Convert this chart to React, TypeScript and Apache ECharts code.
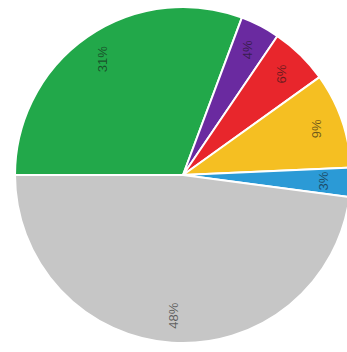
import React, { useEffect, useRef } from "react";
import * as echarts from "echarts";

const categories = ["Green", "Purple", "Red", "Yellow", "Blue", "Gray"];
const values = [30.7, 3.8, 5.6, 9.2, 2.8, 47.9];
const colors = ["#22a84a", "#6a2aa0", "#e8262c", "#f5bf22", "#2b9ad6", "#c6c6c6"];

export default function App() {
  const ref = useRef<HTMLDivElement>(null);
  useEffect(() => {
    if (!ref.current) return;
    const chart = echarts.init(ref.current, undefined, { renderer: "svg" });
    const data = categories.map((name, i) => ({
      name,
      value: values[i],
      itemStyle: { color: colors[i] },
    }));
    chart.setOption({
      animation: false,
      backgroundColor: "#ffffff",
      series: [
        {
          type: "pie",
          center: [183, 175],
          radius: [0, 168],
          startAngle: 180,
          clockwise: true,
          silent: true,
          label: { show: false },
          labelLine: { show: false },
          itemStyle: { borderColor: "#ffffff", borderWidth: 2 },
          data,
        },
        {
          type: "pie",
          center: [183, 175],
          radius: [108, 168],
          startAngle: 180,
          clockwise: true,
          silent: true,
          itemStyle: { color: "transparent", borderWidth: 0 },
          labelLine: { show: false },
          label: {
            show: true,
            position: "inside",
            rotate: 90,
            formatter: (p: any) => Math.round(p.percent) + "%",
            fontFamily: "Liberation Sans, Arial, sans-serif",
            fontSize: 13,
            color: "rgba(20,20,20,0.6)",
          },
          data: categories.map((name, i) => ({ name, value: values[i] })),
        },
      ],
    });
    return () => chart.dispose();
  }, []);
  return (
    <div
      ref={ref}
      style={{ position: "fixed", left: 0, top: 0, width: 347, height: 352 }}
    />
  );
}
